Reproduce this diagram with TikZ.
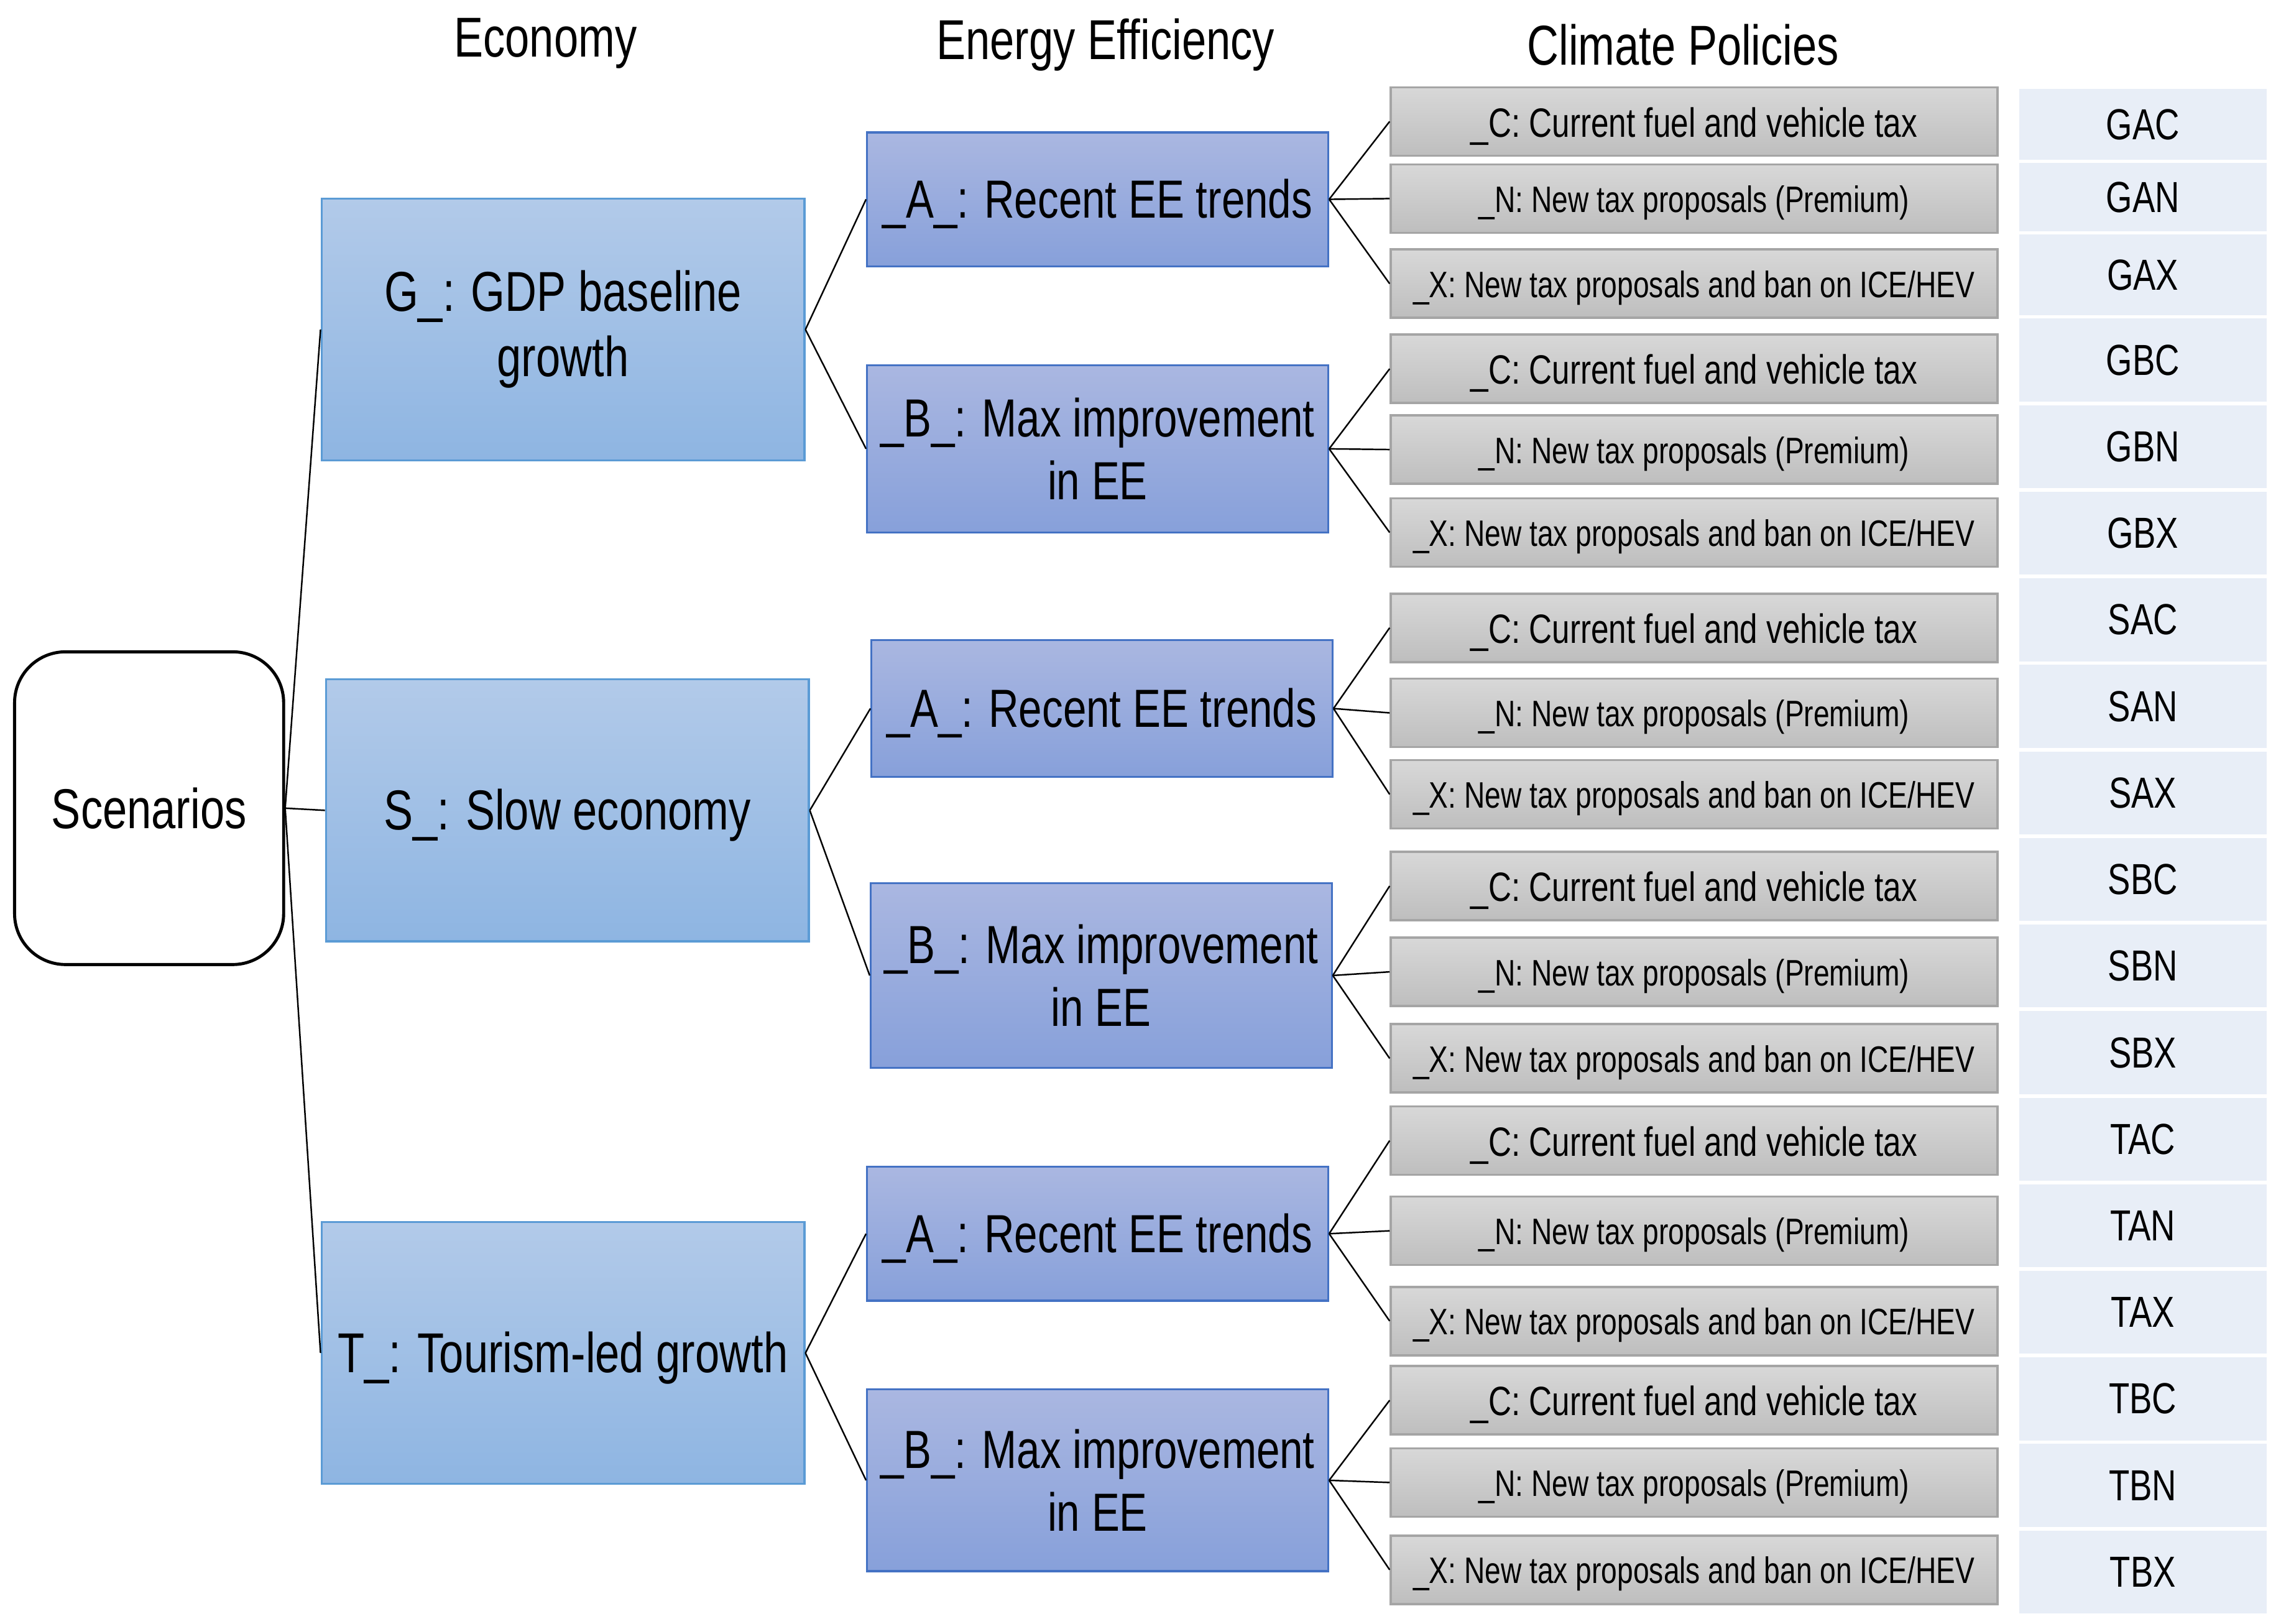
\documentclass[tikz,border=0pt]{standalone}
\usepackage{fontspec}
\setmainfont[FakeStretch=0.78]{Liberation Sans}
\definecolor{econTop}{RGB}{178,202,233}
\definecolor{econBot}{RGB}{142,181,226}
\definecolor{econLine}{RGB}{91,155,213}
\definecolor{eeTop}{RGB}{170,183,225}
\definecolor{eeBot}{RGB}{135,160,218}
\definecolor{eeLine}{RGB}{68,114,196}
\definecolor{polTop}{RGB}{216,216,216}
\definecolor{polBot}{RGB}{190,190,190}
\definecolor{polLine}{RGB}{165,165,165}
\definecolor{labFill}{RGB}{232,238,247}
\begin{document}
\begin{tikzpicture}[x=0.02cm,y=-0.02cm,
  econ/.style={draw=econLine, line width=0.8pt, top color=econTop, bottom color=econBot,
    minimum width=6.64cm, minimum height=3.6cm, inner sep=0pt, align=center,
    font=\fontsize{22}{25.5}\selectfont, execute at begin node={\rule{0pt}{0.9em}}},
  ee/.style={draw=eeLine, line width=0.8pt, top color=eeTop, bottom color=eeBot,
    minimum width=6.34cm, inner sep=0pt, align=center,
    font=\fontsize{21}{24.5}\selectfont, execute at begin node={\rule{0pt}{0.9em}}},
  pol/.style={draw=polLine, line width=0.9pt, top color=polTop, bottom color=polBot,
    minimum width=8.34cm, minimum height=0.94cm, inner sep=0pt,
    execute at begin node={\rule{0pt}{0.95em}}},
  polC/.style={pol, font=\fontsize{16}{19}\selectfont},
  polS/.style={pol, font=\fontsize{14.4}{17}\selectfont},
  lab/.style={fill=labFill, minimum width=3.4cm, inner sep=0pt,
    font=\fontsize{17}{20}\selectfont},
  head/.style={font=\fontsize{22}{26}\selectfont},
  scen/.style={draw=black, line width=1.2pt, rounded corners=0.7cm, fill=white,
    minimum width=3.7cm, minimum height=4.3cm, font=\fontsize{22}{26}\selectfont},
  conn/.style={line width=0.6pt, black}]
\useasboundingbox (0,0) rectangle (1568,1116);

% headers
\node[head] (hEco) at (375,30) {Economy};
\node[head] (hEE) at (760,31) {Energy Efficiency};
\node[head] (hCP) at (1157,31) {Climate Policies};

% root
\node[scen] (root) at (102.5,555.5) {Scenarios};

% economy
\node[econ] (G) at (387,226.5) {G\_: GDP baseline\\growth};
\node[econ] (S) at (390,557) {S\_: Slow economy};
\node[econ] (T) at (387,930) {T\_: Tourism-led growth};

% energy efficiency
\node[ee, minimum height=1.84cm] (GA) at (754.5,137) {\_A\_: Recent EE trends};
\node[ee, minimum height=2.3cm] (GB) at (754.5,308.5) {\_B\_: Max improvement\\in EE};
\node[ee, minimum height=1.88cm] (SA) at (757.5,487) {\_A\_: Recent EE trends};
\node[ee, minimum height=2.54cm] (SB) at (757,670.5) {\_B\_: Max improvement\\in EE};
\node[ee, minimum height=1.84cm] (TA) at (754.5,848) {\_A\_: Recent EE trends};
\node[ee, minimum height=2.5cm] (TB) at (754.5,1017.5) {\_B\_: Max improvement\\in EE};

% policies
\newcommand{\polC}{\_C: Current fuel and vehicle tax}
\newcommand{\polN}{\_N: New tax proposals (Premium)}
\newcommand{\polX}{\_X: New tax proposals and ban on ICE/HEV}
\node[polC] (GAC) at (1164.5,83.5) {\polC};
\node[polS] (GAN) at (1164.5,136.5) {\polN};
\node[polS] (GAX) at (1164.5,195) {\polX};
\node[polC] (GBC) at (1164.5,253.5) {\polC};
\node[polS] (GBN) at (1164.5,309) {\polN};
\node[polS] (GBX) at (1164.5,366) {\polX};
\node[polC] (SAC) at (1164.5,431.5) {\polC};
\node[polS] (SAN) at (1164.5,490) {\polN};
\node[polS] (SAX) at (1164.5,546) {\polX};
\node[polC] (SBC) at (1164.5,609) {\polC};
\node[polS] (SBN) at (1164.5,668) {\polN};
\node[polS] (SBX) at (1164.5,727.5) {\polX};
\node[polC] (TAC) at (1164.5,784) {\polC};
\node[polS] (TAN) at (1164.5,846) {\polN};
\node[polS] (TAX) at (1164.5,908) {\polX};
\node[polC] (TBC) at (1164.5,962.5) {\polC};
\node[polS] (TBN) at (1164.5,1019) {\polN};
\node[polS] (TBX) at (1164.5,1079) {\polX};

% labels
\node[lab, minimum height=0.98cm] (lGAC) at (1473,85.5) {GAC};
\node[lab, minimum height=0.94cm] (lGAN) at (1473,135.5) {GAN};
\node[lab, minimum height=1.11cm] (lGAX) at (1473,189) {GAX};
\foreach \nm [count=\i from 0] in {GBC,GBN,GBX,SAC,SAN,SAX,SBC,SBN,SBX,TAC,TAN,TAX,TBC,TBN,TBX}{
  \node[lab, minimum height=1.14cm] (l\nm) at (1473,{247.5+\i*59.5}) {\nm};
}

% connectors
\draw[conn] (root.east) -- (S.west);
\draw[conn] (root.east) -- (G.west);
\draw[conn] (root.east) -- (T.west);
\foreach \e/\a/\b in {G/GA/GB, S/SA/SB, T/TA/TB}{
  \draw[conn] (\e.east) -- (\a.west);
  \draw[conn] (\e.east) -- (\b.west);
}
\foreach \p in {GA,GB,SA,SB,TA,TB}{
  \draw[conn] (\p.east) -- (\p C.west);
  \draw[conn] (\p.east) -- (\p N.west);
  \draw[conn] (\p.east) -- (\p X.west);
}
\end{tikzpicture}
\end{document}
